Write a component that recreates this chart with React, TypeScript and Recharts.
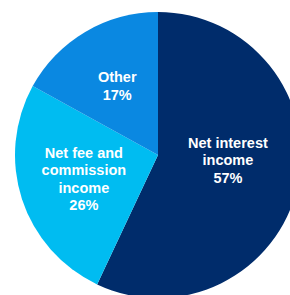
import { Cell, Pie, PieChart } from 'recharts';

const categories = ['Net interest income', 'Net fee and commission income', 'Other'];
const shares = [57, 26, 17];
const labelLines = [
  ['Net interest', 'income', '57%'],
  ['Net fee and', 'commission', 'income', '26%'],
  ['Other', '17%'],
];

const COLORS = ['#002c6b', '#00bcf1', '#0a88e1'];
// small manual nudges so labels sit where the original puts them
const LABEL_R = [0.49, 0.545, 0.56];
const LABEL_TURN = [8.5, 0, 0];

const data = categories.map((name, i) => ({ name, value: shares[i] }));

const RAD = Math.PI / 180;
const LINE_H = 17.5;

function renderLabel(props: any) {
  const { cx, cy, midAngle, outerRadius, index } = props;
  const r = outerRadius * LABEL_R[index];
  const a = (midAngle + LABEL_TURN[index]) * RAD;
  const x = cx + r * Math.cos(a);
  const y = cy - r * Math.sin(a);
  const lines = labelLines[index];
  const top = y - ((lines.length - 1) * LINE_H) / 2;
  return (
    <text
      key={`lbl-${index}`}
      x={x}
      y={top}
      fill="#ffffff"
      textAnchor="middle"
      dominantBaseline="central"
      fontFamily="'Liberation Sans', Arial, sans-serif"
      fontWeight="bold"
      fontSize={14.5}
    >
      {lines.map((ln, i) => (
        <tspan key={i} x={x} dy={i === 0 ? 0 : LINE_H}>
          {ln}
        </tspan>
      ))}
    </text>
  );
}

export default function App() {
  return (
    <div style={{ position: 'absolute', left: 0, top: 0, width: 290, height: 295, background: '#fff' }}>
      <PieChart width={290} height={295} margin={{ top: 0, right: 0, bottom: 0, left: 0 }}>
        <Pie
          data={data}
          dataKey="value"
          nameKey="name"
          cx={158}
          cy={155}
          outerRadius={143}
          startAngle={90}
          endAngle={-270}
          stroke="none"
          labelLine={false}
          label={renderLabel}
          isAnimationActive={false}
        >
          {data.map((d, i) => (
            <Cell key={d.name} fill={COLORS[i]} />
          ))}
        </Pie>
      </PieChart>
    </div>
  );
}
